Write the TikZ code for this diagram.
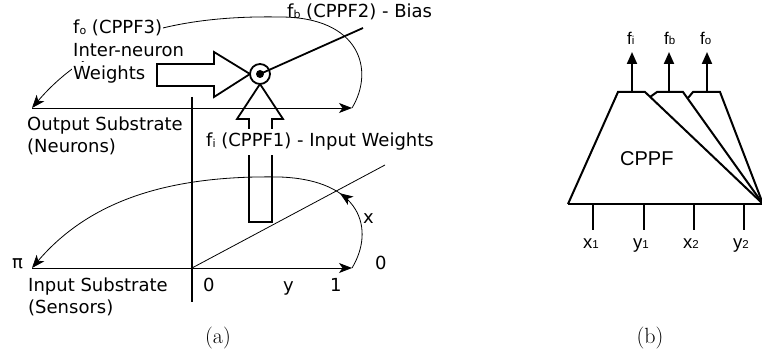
\documentclass[tikz,border=0pt]{standalone}
\usepackage{fontspec}
\newfontfamily\dvfont{DejaVu Sans}
\newfontfamily\libfont{Liberation Sans}
\usetikzlibrary{arrows.meta,decorations.markings}
\newcommand\dsub[1]{\raisebox{-1pt}{\fontsize{11}{11}\selectfont #1}}
\newcommand\lsub[1]{{\fontsize{11.5}{11.5}\selectfont #1}}
\begin{document}
\begin{tikzpicture}[x=1pt,y=-1pt,
  thinline/.style={line width=0.8pt},
  thickline/.style={line width=1.8pt},
  stip/.style={-{Stealth[length=13pt,width=10pt,inset=3.5pt]}},
  dv/.style={font=\dvfont\fontsize{18}{18}\selectfont, inner sep=0pt, anchor=base west},
  dvw/.style={dv, fill=white, inner xsep=1pt, inner ysep=4pt},
  lb/.style={font=\libfont\fontsize{18.5}{18.5}\selectfont, inner sep=0pt, anchor=base west},
  lbtop/.style={font=\libfont\fontsize{17}{17}\selectfont, inner sep=0pt, anchor=base west},
  captext/.style={font=\fontsize{22}{22}\selectfont, inner sep=0pt},
  bline/.style={line width=2pt, line join=miter},
  barrow/.style={line width=2pt, -{Triangle[length=12pt,width=10pt]}}
]
\useasboundingbox (0,0) rectangle (762,355);

% ---------------- panel (a) ----------------
\coordinate (oL) at (32,108);
\coordinate (oR) at (352,108);
\coordinate (oTop) at (280,17);
\coordinate (iL) at (32,268);
\coordinate (iR) at (352,268);
\coordinate (iTop) at (280,177);
\coordinate (vTop) at (192,97);
\coordinate (vBot) at (192,302);
\coordinate (orig) at (192,268);
\coordinate (diagEnd) at (385,165);
\coordinate (biasEnd) at (363,28);

% output substrate
\draw[thinline, stip] (oL) -- (oR);
\draw[thinline, stip] (oR) .. controls (375,70) and (360,17) .. (oTop)
   .. controls (170,15) and (90,40) .. (oL);
% input substrate
\draw[thinline, stip] (iL) -- (iR);
\draw[thinline, stip, postaction={decorate},
  decoration={markings, mark=at position 0.2 with {\arrow{Stealth[length=13pt,width=10pt,inset=3.5pt]}}}]
  (iR) .. controls (375,230) and (362,180) .. (iTop)
   .. controls (170,175) and (90,200) .. (iL);
\draw[thinline] (orig) -- (diagEnd);
\draw[thickline] (vTop) -- (vBot);

% big arrows
\draw[thickline, line join=miter, fill=white] (157,64) -- (214,64) -- (214,52) -- (250,74)
  -- (214,97) -- (214,86) -- (157,86) -- cycle;
\draw[thickline, line join=miter] (249,222) -- (249,119) -- (237,119) -- (260,84)
  -- (283,119) -- (272,119) -- (272,222) -- cycle;

% neuron
\node[circle, draw, line width=1.8pt, fill=white, minimum size=20pt, inner sep=0pt] (neuron) at (260,74) {};
\draw[thickline] (neuron.center) -- (biasEnd);
\node[circle, fill=black, minimum size=8pt, inner sep=0pt] (dot) at (neuron.center) {};

% labels (a)
\node[dvw] (fo1) at (72,34) {f\dsub{o} (CPPF3)};
\node[dvw] (fo2) at (72,57) {Inter-neuron};
\node[dvw] (fo3) at (72,80) {Weights};
\node[dv] (fb) at (287,18) {f\dsub{b} (CPPF2) - Bias};
\node[dvw] (fi) at (205,147) {f\dsub{i} (CPPF1) - Input Weights};
\node[dv] (os1) at (27,131) {Output Substrate};
\node[dv] (os2) at (27,153) {(Neurons)};
\node[dv] (is1) at (28,291) {Input Substrate};
\node[dv] (is2) at (28,313) {(Sensors)};
\node[dv] (pi) at (12,268) {π};
\node[dv] (zeroA) at (203,291) {0};
\node[dv] (ylab) at (283,291) {y};
\node[dv] (one) at (330,291) {1};
\node[dv] (zeroB) at (375,269) {0};
\node[dv] (xlab) at (363,223) {x};
\node[captext] (capa) at (218,338) {(a)};

% ---------------- panel (b) ----------------
\coordinate (V) at (763,204);
\coordinate (BL) at (568,204);
\draw[bline] (BL) -- (618,92) -- (645,92) -- (V);
\draw[bline] (650,97) -- (657,92) -- (683,92) -- (V);
\draw[bline] (688,98) -- (693,92) -- (720,92) -- (V);
\draw[bline] (BL) -- (V);

\coordinate (a1) at (632,92);
\coordinate (a2) at (669,92);
\coordinate (a3) at (707,92);
\coordinate (t1) at (632,52);
\coordinate (t2) at (669,52);
\coordinate (t3) at (707,52);
\draw[barrow] (a1) -- (t1);
\draw[barrow] (a2) -- (t2);
\draw[barrow] (a3) -- (t3);

\foreach \x/\n in {593/k1,644/k2,694/k3,744/k4}{
  \coordinate (\n top) at (\x,204);
  \coordinate (\n bot) at (\x,230);
  \draw[line width=2pt] (\n top) -- (\n bot);
}

\node[font=\libfont\fontsize{20}{20}\selectfont, inner sep=0pt, anchor=base west] (cppf) at (620,166) {CPPF};
\node[lbtop] (lfi) at (627,45) {f\lsub{i}};
\node[lbtop] (lfb) at (664,45) {f\lsub{b}};
\node[lbtop] (lfo) at (700,45) {f\lsub{o}};
\node[lb] (x1) at (583,248) {x\lsub{1}};
\node[lb] (y1) at (633,248) {y\lsub{1}};
\node[lb] (x2) at (683,248) {x\lsub{2}};
\node[lb] (y2) at (733,248) {y\lsub{2}};
\node[captext] (capb) at (650,338) {(b)};
\end{tikzpicture}
\end{document}
